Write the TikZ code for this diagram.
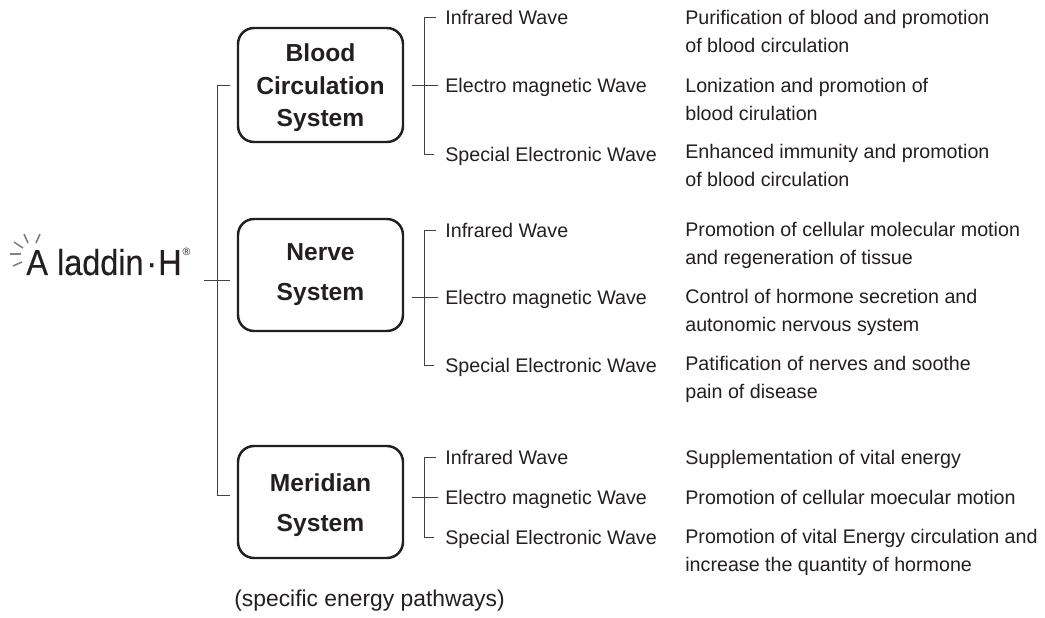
\documentclass[tikz,border=0pt]{standalone}
\usepackage{fontspec}
\setmainfont{Liberation Sans}
\newfontfamily\logofont[FakeStretch=0.9,FakeBold=0.3]{Liberation Sans}
\usepackage{tikz}
\usetikzlibrary{calc,positioning}
\definecolor{inktext}{RGB}{35,31,32}
\definecolor{ray}{RGB}{130,130,130}

\begin{document}
\begin{tikzpicture}[x=0.02cm, y=-0.02cm, font=\fontsize{11.2}{15.5}\selectfont, text=inktext,
      sysbox/.style={draw=inktext, line width=1.4pt, rounded corners=0.32cm, minimum width=3.3cm,
                     align=center, inner sep=0pt, font=\fontsize{14}{18.4}\selectfont\bfseries},
      wave/.style={anchor=west, inner sep=0pt, text height=10.4pt, text depth=2.4pt},
      effect/.style={anchor=west, inner sep=0pt, align=left, text height=10.4pt, text depth=2.4pt},
      link/.style={draw=inktext!85, line width=0.55pt},
      sun/.style={draw=ray, line width=0.9pt}]
    \useasboundingbox (0,0) rectangle (1045,618);
    % logo
    \node[inner sep=0pt, anchor=base west, font=\fontsize{20.5}{24}\logofont] (logo) at (26,275) {A\kern5.2pt laddin\kern1.6pt\textperiodcentered\kern0.6pt H\kern0.6pt\raisebox{11pt}{\fontsize{6}{6}\rmfamily\textregistered}};
    \coordinate (r1a) at (13,266); \coordinate (r1b) at (22,262);
    \coordinate (r2a) at (10,254); \coordinate (r2b) at (21,254);
    \coordinate (r3a) at (14,242); \coordinate (r3b) at (23,248);
    \coordinate (r4a) at (24,234); \coordinate (r4b) at (28,243);
    \coordinate (r5a) at (40,234); \coordinate (r5b) at (36,243);
    \draw[sun] (r1a) -- (r1b);
    \draw[sun] (r2a) -- (r2b);
    \draw[sun] (r3a) -- (r3b);
    \draw[sun] (r4a) -- (r4b);
    \draw[sun] (r5a) -- (r5b);
    % systems
    \node[sysbox, minimum height=2.28cm] (blood) at (320.5,85) {\rule{0pt}{13.5pt}Blood\\Circulation\\System};
    \node[sysbox, minimum height=2.24cm] (nerve) at (320.5,275) {Nerve\\[4.4pt]System};
    \node[sysbox, minimum height=2.24cm] (meridian) at (320.5,502) {\rule{0pt}{13.5pt}Meridian\\[4.4pt]System};
    % waves
    \node[wave] (w11) at (445,17) {Infrared Wave};
    \node[wave] (w12) at (445,85) {Electro magnetic Wave};
    \node[wave] (w13) at (445,154) {Special Electronic Wave};
    \node[wave] (w21) at (445,230) {Infrared Wave};
    \node[wave] (w22) at (445,297) {Electro magnetic Wave};
    \node[wave] (w23) at (445,365) {Special Electronic Wave};
    \node[wave] (w31) at (445,457) {Infrared Wave};
    \node[wave] (w32) at (445,497) {Electro magnetic Wave};
    \node[wave] (w33) at (445,537) {Special Electronic Wave};
    % effects
    \node[effect] (e11) at (685,45) {Purification of blood and promotion\\of blood circulation};
    \node[effect] (e12) at (685,113) {Lonization and promotion of\\blood cirulation};
    \node[effect] (e13) at (685,179) {Enhanced immunity and promotion\\of blood circulation};
    \node[effect] (e21) at (685,257) {Promotion of cellular molecular motion\\and regeneration of tissue};
    \node[effect] (e22) at (685,324) {Control of hormone secretion and\\autonomic nervous system};
    \node[effect] (e23) at (685,391) {Patification of nerves and soothe\\pain of disease};
    \node[effect] (e31) at (685,457) {Supplementation of vital energy};
    \node[effect] (e32) at (685,497) {Promotion of cellular moecular motion};
    \node[effect] (e33) at (685,564) {Promotion of vital Energy circulation and\\increase the quantity of hormone};
    \node[inner sep=0pt, anchor=west, font=\fontsize{13}{16}\selectfont] (note) at (234,601) {(specific energy pathways)};
    % junctions
    \coordinate (hub) at (217,280);
    \coordinate (b1) at (424,85);
    \coordinate (b2) at (424,297);
    \coordinate (b3) at (424,497);
    \coordinate (start) at (204,280);
    \draw[link, shorten <=0.14cm] (blood.west |- b1) -| (hub);
    \draw[link, shorten <=0.14cm] (meridian.west |- 0,495) -| (hub);
    \draw[link] (start) -- ($(nerve.west |- hub)+(-7,0)$);
    \draw[link, shorten <=0.18cm] (w11.west) -| (b1);
    \draw[link, shorten <=0.22cm] (w13.west) -| (b1);
    \draw[link, shorten <=0.16cm, shorten >=0.14cm] (blood.east) -- (w12.west);
    \draw[link, shorten <=0.18cm] (w21.west) -| (b2);
    \draw[link, shorten <=0.22cm] (w23.west) -| (b2);
    \draw[link, shorten <=0.16cm, shorten >=0.14cm] (nerve.east |- b2) -- (w22.west);
    \draw[link, shorten <=0.18cm] (w31.west) -| (b3);
    \draw[link, shorten <=0.22cm] (w33.west) -| (b3);
    \draw[link, shorten <=0.16cm, shorten >=0.14cm] (meridian.east |- b3) -- (w32.west);
  \end{tikzpicture}
\end{document}
